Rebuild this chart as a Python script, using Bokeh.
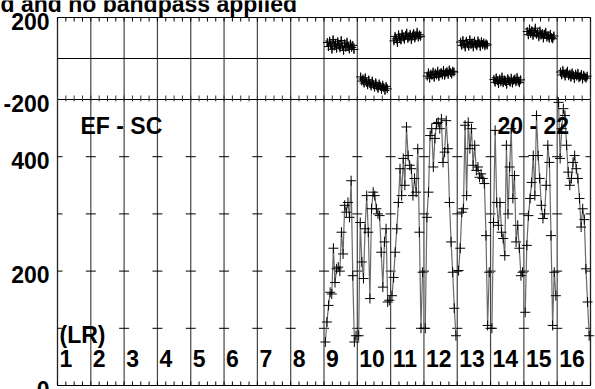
from bokeh.plotting import figure
from bokeh.models import Range1d
from bokeh.core.properties import value
from bokeh.embed import file_html
from bokeh.resources import INLINE

# ---------------- data ----------------
if_numbers = list(range(1, 17))
data_ifs = [9, 10, 11, 12, 13, 14, 15, 16]

amp_if9 = [76, 111, 140, 163, 160, 240, 180, 204, 207, 200, 268, 230, 315, 303, 320, 294, 358, 192, 76, 87]
amp_if10 = [87, 285, 216, 187, 274, 332, 268, 152, 309, 338, 332, 309, 300, 297, 233, 172, 251, 274, 146, 149]
amp_if11 = [157, 189, 233, 274, 320, 379, 332, 397, 350, 452, 402, 385, 379, 332, 362, 338, 414, 268, 100, 198]
amp_if12 = [100, 294, 338, 437, 449, 382, 432, 458, 460, 449, 466, 390, 408, 463, 414, 320, 251, 198, 135, 87]
amp_if13 = [201, 240, 303, 309, 455, 332, 460, 414, 449, 385, 420, 376, 382, 364, 370, 362, 353, 262, 105, 198]
amp_if14 = [100, 285, 446, 320, 280, 320, 268, 257, 227, 420, 300, 382, 449, 327, 367, 251, 280, 240, 192, 198]
amp_if15 = [128, 245, 297, 327, 355, 402, 332, 472, 402, 362, 315, 292, 300, 350, 420, 390, 262, 105, 198, 157]
amp_if16 = [495, 397, 449, 484, 472, 420, 373, 350, 362, 390, 402, 379, 362, 327, 277, 309, 290, 204, 146, 87]
amplitudes = [amp_if9, amp_if10, amp_if11, amp_if12, amp_if13, amp_if14, amp_if15, amp_if16]

phase_if9 = [78, 58, 85, 66, 45, 92, 61, 74, 50, 82, 64, 52, 88, 60, 40, 72, 55, 80, 58, 46, 70, 54, 64, 44]
phase_if10 = [-90, -110, -100, -120, -94, -116, -128, -104, -122, -134, -110, -128, -140, -118, -134, -146, -124, -136, -150, -130, -142, -156, -136, -148]
phase_if11 = [86, 108, 96, 78, 116, 100, 90, 120, 104, 94, 112, 124, 98, 106, 118, 92, 110, 122, 100, 112, 128, 104, 116, 108]
phase_if12 = [-86, -70, -96, -76, -82, -66, -92, -72, -80, -62, -88, -74, -68, -80, -58, -82, -70, -64, -78, -56, -68, -76, -62, -66]
phase_if13 = [80, 64, 88, 70, 56, 84, 72, 60, 92, 68, 76, 56, 84, 70, 62, 86, 74, 58, 82, 68, 76, 62, 72, 66]
phase_if14 = [-102, -116, -94, -108, -122, -100, -114, -90, -118, -104, -112, -126, -98, -108, -116, -96, -120, -106, -100, -114, -92, -110, -118, -104]
phase_if15 = [132, 116, 144, 122, 136, 112, 128, 148, 118, 126, 106, 134, 114, 122, 100, 118, 128, 104, 112, 98, 118, 102, 96, 110]
phase_if16 = [-66, -80, -58, -74, -86, -70, -62, -84, -76, -92, -70, -82, -98, -76, -86, -72, -94, -88, -78, -100, -82, -90, -96, -86]
phases = [phase_if9, phase_if10, phase_if11, phase_if12, phase_if13, phase_if14, phase_if15, phase_if16]
phase_error = 18

amp_tick_values = [0, 200, 400]
amp_minor_values = [100, 200, 300, 400]
phase_tick_values = [-200, 200]
phase_limits = [-200, 200]
amp_limit = 500

title_text = "d and no bandpass applied"
baseline_text = "EF - SC"
time_text = "20 - 22"
stokes_text = "(LR)"

# ---------------- layout constants (pixels) ----------------
W, H = 595, 389
F_LEFT, F_RIGHT = 57, 590
F_TOP, F_SPLIT, F_BOTTOM = 17, 99, 385
TDY = -6.5   # correction of the rendered text baseline

amp_px = (F_BOTTOM - F_SPLIT) / amp_limit
ph_px = (F_SPLIT - F_TOP) / (phase_limits[1] - phase_limits[0])
n_if = len(if_numbers)
x_px = (F_RIGHT - F_LEFT) / n_if

def amp_at(py):
    return (F_BOTTOM - py) / amp_px

def py_of_amp(a):
    return F_BOTTOM - a * amp_px

def ph_at(py):
    return phase_limits[1] - (py - F_TOP) / ph_px

def py_of_ph(v):
    return F_TOP + (phase_limits[1] - v) * ph_px

def x_at(px):
    return (px - F_LEFT) / x_px

FONT = "Liberation Sans"
FS = "23px"

p = figure(width=W, height=H, output_backend="svg", toolbar_location=None,
           x_range=Range1d(x_at(0), x_at(W)), y_range=Range1d(amp_at(H), amp_at(0)),
           x_axis_location=None, y_axis_location=None,
           min_border=0, min_border_left=0, min_border_right=0,
           min_border_top=0, min_border_bottom=0,
           background_fill_color="white", border_fill_color="white",
           outline_line_color=None)
p.extra_y_ranges = {"phase": Range1d(ph_at(H), ph_at(0))}
p.xgrid.visible = False
p.ygrid.visible = False

amp_frame_top = amp_at(F_TOP)

# ---------------- frame & decorations ----------------
bounds = list(range(1, n_if))
p.segment(x0=bounds, y0=[0] * len(bounds), x1=bounds, y1=[amp_frame_top] * len(bounds),
          line_color="#444444", line_width=1.2)
p.segment(x0=[0, n_if], y0=[0, 0], x1=[0, n_if], y1=[amp_frame_top, amp_frame_top],
          line_color="#222222", line_width=1.3)
p.segment(x0=[0, 0], y0=[0, amp_frame_top], x1=[n_if, n_if], y1=[0, amp_frame_top],
          line_color="black", line_width=1.2)
p.segment(x0=[0], y0=[0], x1=[n_if], y1=[0], y_range_name="phase", line_color="black", line_width=1)
p.segment(x0=[0], y0=[amp_limit], x1=[n_if], y1=[amp_limit], line_color="black", line_width=1.2)

hx0, hx1, hy = [], [], []
for b in range(0, n_if + 1):
    for a in amp_minor_values:
        hx0.append(max(0, b - 5 / x_px))
        hx1.append(min(n_if, b + 5 / x_px))
        hy.append(a)
p.segment(x0=hx0, y0=hy, x1=hx1, y1=hy, line_color="black", line_width=1)

qx = [k / 4 for k in range(0, 4 * n_if + 1)]
nq = len(qx)
p.segment(x0=qx, y0=[0] * nq, x1=qx, y1=[amp_at(F_BOTTOM - 4)] * nq, line_color="black", line_width=1)
p.segment(x0=qx, y0=[amp_at(F_TOP + 4)] * nq, x1=qx, y1=[amp_frame_top] * nq, line_color="black", line_width=1)
p.segment(x0=qx, y0=[amp_at(F_SPLIT + 2)] * nq, x1=qx, y1=[amp_at(F_SPLIT - 4)] * nq,
          line_color="#333333", line_width=1)

# ---------------- data ----------------
for k, ifn in enumerate(data_ifs):
    a = amplitudes[k]
    n = len(a)
    xs = [(ifn - 1) + 0.04 + 0.92 * j / (n - 1) for j in range(n)]
    p.line(xs, a, line_color="#6a6a6a", line_width=1.2)
    p.scatter(xs, a, marker="cross", size=10, line_color="black", line_width=1)

    ph = phases[k]
    m = len(ph)
    xp = [(ifn - 1) + 0.1 + 0.8 * j / (m - 1) for j in range(m)]
    p.line(xp, ph, y_range_name="phase", line_color="#6a6a6a", line_width=1.2)
    p.segment(x0=xp, y0=[v - phase_error for v in ph], x1=xp, y1=[v + phase_error for v in ph],
              y_range_name="phase", line_color="#222222", line_width=1.2)
    p.scatter(xp, ph, y_range_name="phase", marker="cross", size=9, line_color="black", line_width=1)

# ---------------- texts ----------------
txt = dict(text_font=value(FONT), text_font_style="bold", text_font_size=FS,
           text_color="black", text_baseline="alphabetic", text_align="left")
rtxt = dict(txt, text_align="right")

p.text(x=[x_at(49)] * len(amp_tick_values),
       y=[amp_at(py_of_amp(v) + 10 + TDY) for v in amp_tick_values],
       text=[str(v) for v in amp_tick_values], **rtxt)
p.text(x=[x_at(49)] * len(phase_tick_values),
       y=[ph_at(py_of_ph(v) + 10 + TDY) for v in phase_tick_values],
       text=[str(v) for v in phase_tick_values], y_range_name="phase", **rtxt)

p.text(x=[(i - 1) + 2 / x_px for i in if_numbers], y=[amp_at(364 + TDY)] * n_if,
       text=[str(i) for i in if_numbers], **txt)
p.text(x=[x_at(59)], y=[amp_at(341 + TDY)], text=[stokes_text], **txt)
p.text(x=[x_at(80)], y=[amp_at(132 + TDY)], text=[baseline_text], **txt)
p.text(x=[x_at(497)], y=[amp_at(132 + TDY)], text=[time_text], **txt)
p.text(x=[x_at(0)], y=[amp_at(9.5 + TDY)], text=[title_text], **txt)

open("out.html", "w").write(file_html(p, INLINE))
